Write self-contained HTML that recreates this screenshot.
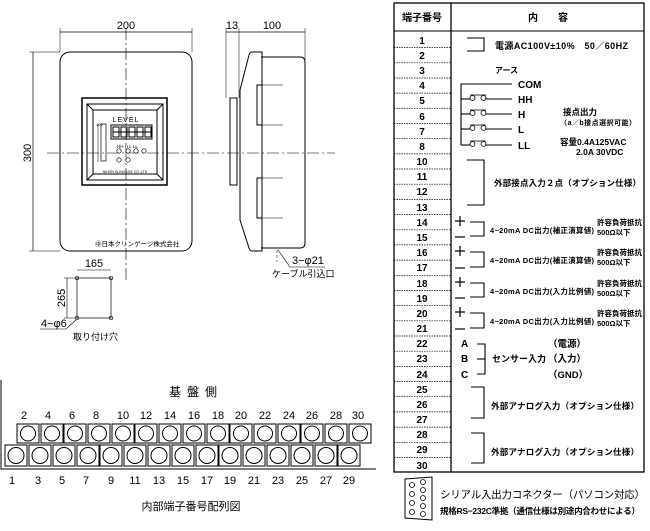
<!DOCTYPE html>
<html><head><meta charset="utf-8"><style>
html,body{margin:0;padding:0;background:#fff}
svg{display:block}
text{font-family:"Liberation Sans","Noto Sans CJK JP",sans-serif;fill:#000}
.b{font-weight:bold}
</style></head><body>
<svg width="650" height="531" viewBox="0 0 650 531" xmlns="http://www.w3.org/2000/svg">
<g stroke="#000" fill="none" stroke-width="1">
<rect x="60" y="52" width="132" height="199" rx="10"/>
<line x1="60" y1="32" x2="192" y2="32" stroke-width="0.7"/>
<line x1="60" y1="28" x2="60" y2="52" stroke-width="0.5"/>
<line x1="192" y1="28" x2="192" y2="52" stroke-width="0.5"/>
<line x1="33" y1="52" x2="33" y2="251" stroke-width="0.7"/>
<line x1="29" y1="52" x2="60" y2="52" stroke-width="0.5"/>
<line x1="29" y1="251" x2="60" y2="251" stroke-width="0.5"/>
<line x1="126" y1="28" x2="126" y2="282" stroke-width="0.6" stroke-dasharray="12,3,2,3"/>
<line x1="47" y1="153" x2="335" y2="153" stroke-width="0.6" stroke-dasharray="12,3,2,3"/>
<rect x="82" y="98" width="85" height="87" stroke-width="1.5"/>
<rect x="87" y="104" width="76" height="76"/>
<rect x="93" y="110" width="64" height="64"/>
<line x1="87" y1="104" x2="93" y2="110"/><line x1="163" y1="104" x2="157" y2="110"/>
<line x1="87" y1="180" x2="93" y2="174"/><line x1="163" y1="180" x2="157" y2="174"/>
<rect x="111" y="125" width="41" height="14"/>
<g stroke-width="1"><rect x="113" y="127" width="6" height="10"/><rect x="121" y="127" width="6" height="10"/><rect x="129" y="127" width="6" height="10"/><rect x="137" y="127" width="6" height="10"/><rect x="145" y="127" width="6" height="10"/>
<line x1="113" y1="132" x2="151" y2="132"/></g>
<rect x="101" y="124" width="5" height="37" stroke-width="0.7"/>
<line x1="98" y1="124" x2="98" y2="162" stroke-width="0.5"/>
<g stroke-width="0.7"><circle cx="119" cy="151" r="2.2"/><circle cx="128" cy="151" r="2.2"/><circle cx="136" cy="151" r="2.2"/><circle cx="144" cy="151" r="2.2"/><circle cx="119" cy="160" r="2.2"/><circle cx="128" cy="160" r="2.2"/></g>
<rect x="77" y="278" width="34" height="40" stroke-width="0.7"/>
<g stroke-width="0.7"><circle cx="77" cy="278" r="1.8"/><circle cx="111" cy="278" r="1.8"/><circle cx="77" cy="318" r="1.8"/><circle cx="111" cy="318" r="1.8"/></g>
<line x1="77" y1="270" x2="111" y2="270" stroke-width="0.6"/>
<line x1="67" y1="278" x2="67" y2="318" stroke-width="0.6"/>
<line x1="64" y1="278" x2="77" y2="278" stroke-width="0.5"/>
<line x1="64" y1="318" x2="77" y2="318" stroke-width="0.5"/>
<polyline points="40,329 66,329 76,320" stroke-width="0.6"/>
<line x1="226" y1="32" x2="305" y2="32" stroke-width="0.7"/>
<line x1="226" y1="28" x2="226" y2="98" stroke-width="0.5"/>
<line x1="239" y1="28" x2="239" y2="98" stroke-width="0.5"/>
<line x1="305" y1="28" x2="305" y2="60" stroke-width="0.5"/>
<rect x="230" y="98" width="7" height="87"/>
<path d="M262 52 L252 52 Q250 52 249 55 L240 90 L240 220 L249 248 Q250 251 252 251 L262 251 Z"/>
<path d="M261 57 L300 57 Q305 57 305 62 L305 243 Q305 248 300 248 L261 248"/>
<rect x="257" y="85" width="5" height="40"/><rect x="257" y="178" width="5" height="40"/>
<line x1="262" y1="85" x2="283" y2="85" stroke-width="0.6"/><line x1="262" y1="125" x2="283" y2="125" stroke-width="0.6"/>
<line x1="262" y1="178" x2="283" y2="178" stroke-width="0.6"/><line x1="262" y1="218" x2="283" y2="218" stroke-width="0.6"/>
<polyline points="278,250 290,267 325,267" stroke-width="0.6"/>
<line x1="277" y1="250" x2="277" y2="262" stroke-width="0.5" stroke-dasharray="3,2"/>
</g>
<text x="126" y="29" font-size="11" text-anchor="middle">200</text>
<text x="232" y="29" font-size="11" text-anchor="middle">13</text>
<text x="272" y="29" font-size="11" text-anchor="middle">100</text>
<text x="0" y="0" font-size="11" text-anchor="middle" transform="translate(31,153) rotate(-90)">300</text>
<text x="126" y="122" font-size="7" text-anchor="middle" letter-spacing="1">LEVEL</text>
<text x="96" y="126" font-size="4">100</text>
<text x="117" y="148" font-size="4.5">HH  H  L  LL</text>
<text x="125" y="173" font-size="3.5" text-anchor="middle">NIHON KLINGAGE CO.,LTD</text>
<text x="95" y="246" font-size="6.5">㊥日本クリンゲージ株式会社</text>
<text x="94" y="267" font-size="11" text-anchor="middle">165</text>
<text x="0" y="0" font-size="11" text-anchor="middle" transform="translate(65,298) rotate(-90)">265</text>
<text x="41" y="327" font-size="11">4−φ6</text>
<text x="73" y="340" font-size="9">取り付け穴</text>
<text x="292" y="264" font-size="11">3−φ21</text>
<text x="272" y="277" font-size="9">ケーブル引込口</text>
<g stroke="#000" fill="none" stroke-width="1">
<polyline points="1,380 1,469 376,469"/>
<rect x="17" y="424" width="22" height="19"/><circle cx="28" cy="433.5" r="7.5"/>
<rect x="41" y="424" width="22" height="19"/><circle cx="52" cy="433.5" r="7.5"/>
<rect x="64" y="424" width="22" height="19"/><circle cx="75" cy="433.5" r="7.5"/>
<rect x="88" y="424" width="22" height="19"/><circle cx="99" cy="433.5" r="7.5"/>
<rect x="112" y="424" width="22" height="19"/><circle cx="123" cy="433.5" r="7.5"/>
<rect x="135" y="424" width="22" height="19"/><circle cx="146" cy="433.5" r="7.5"/>
<rect x="159" y="424" width="22" height="19"/><circle cx="170" cy="433.5" r="7.5"/>
<rect x="183" y="424" width="22" height="19"/><circle cx="194" cy="433.5" r="7.5"/>
<rect x="207" y="424" width="22" height="19"/><circle cx="218" cy="433.5" r="7.5"/>
<rect x="230" y="424" width="22" height="19"/><circle cx="241" cy="433.5" r="7.5"/>
<rect x="254" y="424" width="22" height="19"/><circle cx="265" cy="433.5" r="7.5"/>
<rect x="278" y="424" width="22" height="19"/><circle cx="289" cy="433.5" r="7.5"/>
<rect x="301" y="424" width="22" height="19"/><circle cx="312" cy="433.5" r="7.5"/>
<rect x="325" y="424" width="22" height="19"/><circle cx="336" cy="433.5" r="7.5"/>
<rect x="349" y="424" width="22" height="19"/><circle cx="360" cy="433.5" r="7.5"/>
<rect x="5" y="445" width="22" height="21"/><circle cx="16" cy="455.5" r="8"/>
<rect x="29" y="445" width="22" height="21"/><circle cx="40" cy="455.5" r="8"/>
<rect x="53" y="445" width="22" height="21"/><circle cx="64" cy="455.5" r="8"/>
<rect x="77" y="445" width="22" height="21"/><circle cx="88" cy="455.5" r="8"/>
<rect x="100" y="445" width="22" height="21"/><circle cx="111" cy="455.5" r="8"/>
<rect x="124" y="445" width="22" height="21"/><circle cx="135" cy="455.5" r="8"/>
<rect x="148" y="445" width="22" height="21"/><circle cx="159" cy="455.5" r="8"/>
<rect x="172" y="445" width="22" height="21"/><circle cx="183" cy="455.5" r="8"/>
<rect x="196" y="445" width="22" height="21"/><circle cx="207" cy="455.5" r="8"/>
<rect x="219" y="445" width="22" height="21"/><circle cx="230" cy="455.5" r="8"/>
<rect x="243" y="445" width="22" height="21"/><circle cx="254" cy="455.5" r="8"/>
<rect x="267" y="445" width="22" height="21"/><circle cx="278" cy="455.5" r="8"/>
<rect x="291" y="445" width="22" height="21"/><circle cx="302" cy="455.5" r="8"/>
<rect x="315" y="445" width="22" height="21"/><circle cx="326" cy="455.5" r="8"/>
<rect x="338" y="445" width="22" height="21"/><circle cx="349" cy="455.5" r="8"/>
</g>
<text x="196" y="396" font-size="12" text-anchor="middle" letter-spacing="6">基盤側</text>
<g font-size="11" text-anchor="middle">
<text x="24" y="419">2</text><text x="48" y="419">4</text><text x="72" y="419">6</text><text x="96" y="419">8</text><text x="123" y="419">10</text><text x="146" y="419">12</text><text x="170" y="419">14</text><text x="194" y="419">16</text><text x="218" y="419">18</text><text x="241" y="419">20</text><text x="265" y="419">22</text><text x="289" y="419">24</text><text x="312" y="419">26</text><text x="336" y="419">28</text><text x="358" y="419">30</text>
<text x="12" y="484">1</text><text x="38" y="484">3</text><text x="62" y="484">5</text><text x="86" y="484">7</text><text x="111" y="484">9</text><text x="135" y="484">11</text><text x="159" y="484">13</text><text x="183" y="484">15</text><text x="207" y="484">17</text><text x="230" y="484">19</text><text x="254" y="484">21</text><text x="278" y="484">23</text><text x="302" y="484">25</text><text x="326" y="484">27</text><text x="349" y="484">29</text>
</g>
<text x="191" y="510" font-size="11" text-anchor="middle">内部端子番号配列図</text>
<g stroke="#000" fill="none">
<rect x="394" y="3" width="250" height="469" stroke-width="1.3"/>
<line x1="451" y1="3" x2="451" y2="472" stroke-width="1.3"/>
<line x1="394" y1="31" x2="644" y2="31" stroke-width="1"/>
<g stroke-width="0.7" stroke-dasharray="1.5,1">
<line x1="394" y1="47.6" x2="451" y2="47.6"/><line x1="394" y1="62.8" x2="451" y2="62.8"/><line x1="394" y1="78" x2="451" y2="78"/><line x1="394" y1="93.1" x2="451" y2="93.1"/><line x1="394" y1="108.3" x2="451" y2="108.3"/><line x1="394" y1="123.5" x2="451" y2="123.5"/><line x1="394" y1="138.7" x2="451" y2="138.7"/><line x1="394" y1="153.9" x2="451" y2="153.9"/><line x1="394" y1="169" x2="451" y2="169"/><line x1="394" y1="184.2" x2="451" y2="184.2"/><line x1="394" y1="199.4" x2="451" y2="199.4"/><line x1="394" y1="214.6" x2="451" y2="214.6"/><line x1="394" y1="229.8" x2="451" y2="229.8"/><line x1="394" y1="244.9" x2="451" y2="244.9"/><line x1="394" y1="260.1" x2="451" y2="260.1"/><line x1="394" y1="275.3" x2="451" y2="275.3"/><line x1="394" y1="290.5" x2="451" y2="290.5"/><line x1="394" y1="305.7" x2="451" y2="305.7"/><line x1="394" y1="320.8" x2="451" y2="320.8"/><line x1="394" y1="336" x2="451" y2="336"/><line x1="394" y1="351.2" x2="451" y2="351.2"/><line x1="394" y1="366.4" x2="451" y2="366.4"/><line x1="394" y1="381.6" x2="451" y2="381.6"/><line x1="394" y1="396.7" x2="451" y2="396.7"/><line x1="394" y1="411.9" x2="451" y2="411.9"/><line x1="394" y1="427.1" x2="451" y2="427.1"/><line x1="394" y1="442.3" x2="451" y2="442.3"/><line x1="394" y1="457.5" x2="451" y2="457.5"/>
</g>
<g stroke-width="1.1">
<polyline points="467,38 484,38 484,51 467,51"/>
<polyline points="512,84 461,84 461,145"/>
<line x1="461" y1="99" x2="470" y2="99"/><line x1="486" y1="99" x2="512" y2="99"/>
<line x1="461" y1="114" x2="470" y2="114"/><line x1="486" y1="114" x2="512" y2="114"/>
<line x1="461" y1="129" x2="470" y2="129"/><line x1="486" y1="129" x2="512" y2="129"/>
<line x1="461" y1="145" x2="470" y2="145"/><line x1="486" y1="145" x2="512" y2="145"/>
<g stroke-width="0.8"><circle cx="472.5" cy="98" r="2.5"/><circle cx="483.5" cy="98" r="2.5"/><circle cx="472.5" cy="113" r="2.5"/><circle cx="483.5" cy="113" r="2.5"/><circle cx="472.5" cy="128" r="2.5"/><circle cx="483.5" cy="128" r="2.5"/><circle cx="472.5" cy="144" r="2.5"/><circle cx="483.5" cy="144" r="2.5"/>
<line x1="470" y1="95" x2="486" y2="95"/><line x1="470" y1="110" x2="486" y2="110"/><line x1="470" y1="125" x2="486" y2="125"/><line x1="470" y1="141" x2="486" y2="141"/></g>
<polyline points="467,160 484,160 484,205 467,205"/>
<polyline points="470,222 484,222 484,236 470,236"/>
<polyline points="470,252 484,252 484,267 470,267"/>
<polyline points="470,283 484,283 484,297 470,297"/>
<polyline points="470,313 484,313 484,328 470,328"/>
<polyline points="477,344 485,344 485,374 477,374"/><line x1="477" y1="359" x2="485" y2="359"/>
<polyline points="471,387 484,387 484,418 471,418"/>
<polyline points="471,433 484,433 484,463 471,463"/>
</g>
<g stroke-width="1.2"><line x1="455" y1="221" x2="465" y2="221"/><line x1="460" y1="216" x2="460" y2="226"/><line x1="455" y1="237" x2="465" y2="237"/>
<line x1="455" y1="251" x2="465" y2="251"/><line x1="460" y1="246" x2="460" y2="256"/><line x1="455" y1="268" x2="465" y2="268"/>
<line x1="455" y1="282" x2="465" y2="282"/><line x1="460" y1="277" x2="460" y2="287"/><line x1="455" y1="298" x2="465" y2="298"/>
<line x1="455" y1="312" x2="465" y2="312"/><line x1="460" y1="307" x2="460" y2="317"/><line x1="455" y1="329" x2="465" y2="329"/></g>
<path d="M405 479 L432 477 L432 520 L405 518 Z" stroke-width="1"/>
<g stroke-width="0.8"><circle cx="412" cy="485" r="2.5"/><circle cx="412" cy="494" r="2.5"/><circle cx="412" cy="503" r="2.5"/><circle cx="412" cy="512" r="2.5"/><circle cx="423" cy="482" r="2.5"/><circle cx="423" cy="490" r="2.5"/><circle cx="423" cy="498" r="2.5"/><circle cx="423" cy="506" r="2.5"/><circle cx="423" cy="514" r="2.5"/></g>
</g>
<text x="422" y="21" font-size="10" class="b" text-anchor="middle">端子番号</text>
<text x="548" y="21" font-size="10" class="b" text-anchor="middle">内　　容</text>
<g font-size="10" class="b" text-anchor="middle">
<text x="422" y="44">1</text><text x="422" y="59">2</text><text x="422" y="74">3</text><text x="422" y="89">4</text><text x="422" y="104">5</text><text x="422" y="120">6</text><text x="422" y="135">7</text><text x="422" y="150">8</text><text x="422" y="165">10</text><text x="422" y="180">11</text><text x="422" y="195">12</text><text x="422" y="211">13</text><text x="422" y="226">14</text><text x="422" y="241">15</text><text x="422" y="256">16</text><text x="422" y="271">17</text><text x="422" y="287">18</text><text x="422" y="302">19</text><text x="422" y="317">20</text><text x="422" y="332">21</text><text x="422" y="347">22</text><text x="422" y="362">23</text><text x="422" y="378">24</text><text x="422" y="393">25</text><text x="422" y="408">26</text><text x="422" y="423">27</text><text x="422" y="438">28</text><text x="422" y="453">29</text><text x="422" y="469">30</text>
</g>
<text x="495" y="49" font-size="9" class="b" textLength="133">電源AC100V±10%　50／60HZ</text>
<text x="495" y="73" font-size="8" class="b">アース</text>
<g font-size="10" class="b"><text x="518" y="88">COM</text><text x="518" y="103">HH</text><text x="518" y="118">H</text><text x="518" y="133">L</text><text x="518" y="149">LL</text></g>
<text x="563" y="115" font-size="8.5" class="b">接点出力</text>
<text x="560" y="125" font-size="7" class="b" textLength="76">（a／b接点選択可能）</text>
<text x="560" y="145" font-size="8.5" class="b">容量0.4A125VAC</text>
<text x="576" y="155" font-size="8.5" class="b">2.0A  30VDC</text>
<text x="494" y="186" font-size="8.5" class="b" textLength="147">外部接点入力２点（オプション仕様）</text>
<g font-size="7.5" class="b">
<text x="490" y="233" textLength="104">4~20mA DC出力(補正演算値)</text><text x="597" y="225" textLength="45">許容負荷抵抗</text><text x="597" y="235">500Ω以下</text>
<text x="490" y="263" textLength="104">4~20mA DC出力(補正演算値)</text><text x="597" y="255" textLength="45">許容負荷抵抗</text><text x="597" y="265">500Ω以下</text>
<text x="490" y="294" textLength="104">4~20mA DC出力(入力比例値)</text><text x="597" y="286" textLength="45">許容負荷抵抗</text><text x="597" y="296">500Ω以下</text>
<text x="490" y="324" textLength="104">4~20mA DC出力(入力比例値)</text><text x="597" y="316" textLength="45">許容負荷抵抗</text><text x="597" y="326">500Ω以下</text>
</g>
<g font-size="10" class="b"><text x="461" y="347">A</text><text x="461" y="362">B</text><text x="461" y="378">C</text></g>
<text x="492" y="362" font-size="9" class="b">センサー入力</text>
<g font-size="9.5" class="b"><text x="548" y="347">（電源）</text><text x="548" y="362">（入力）</text><text x="548" y="378">（GND）</text></g>
<text x="491" y="409" font-size="8.5" class="b" textLength="148">外部アナログ入力（オプション仕様）</text>
<text x="491" y="455" font-size="8.5" class="b" textLength="148">外部アナログ入力（オプション仕様）</text>
<text x="440" y="498" font-size="10.5" textLength="205">シリアル入出力コネクター（パソコン対応）</text>
<text x="440" y="514" font-size="8.5" class="b" textLength="200">規格RS−232C準拠（通信仕様は別途内合わせによる）</text>
</svg>
</body></html>
